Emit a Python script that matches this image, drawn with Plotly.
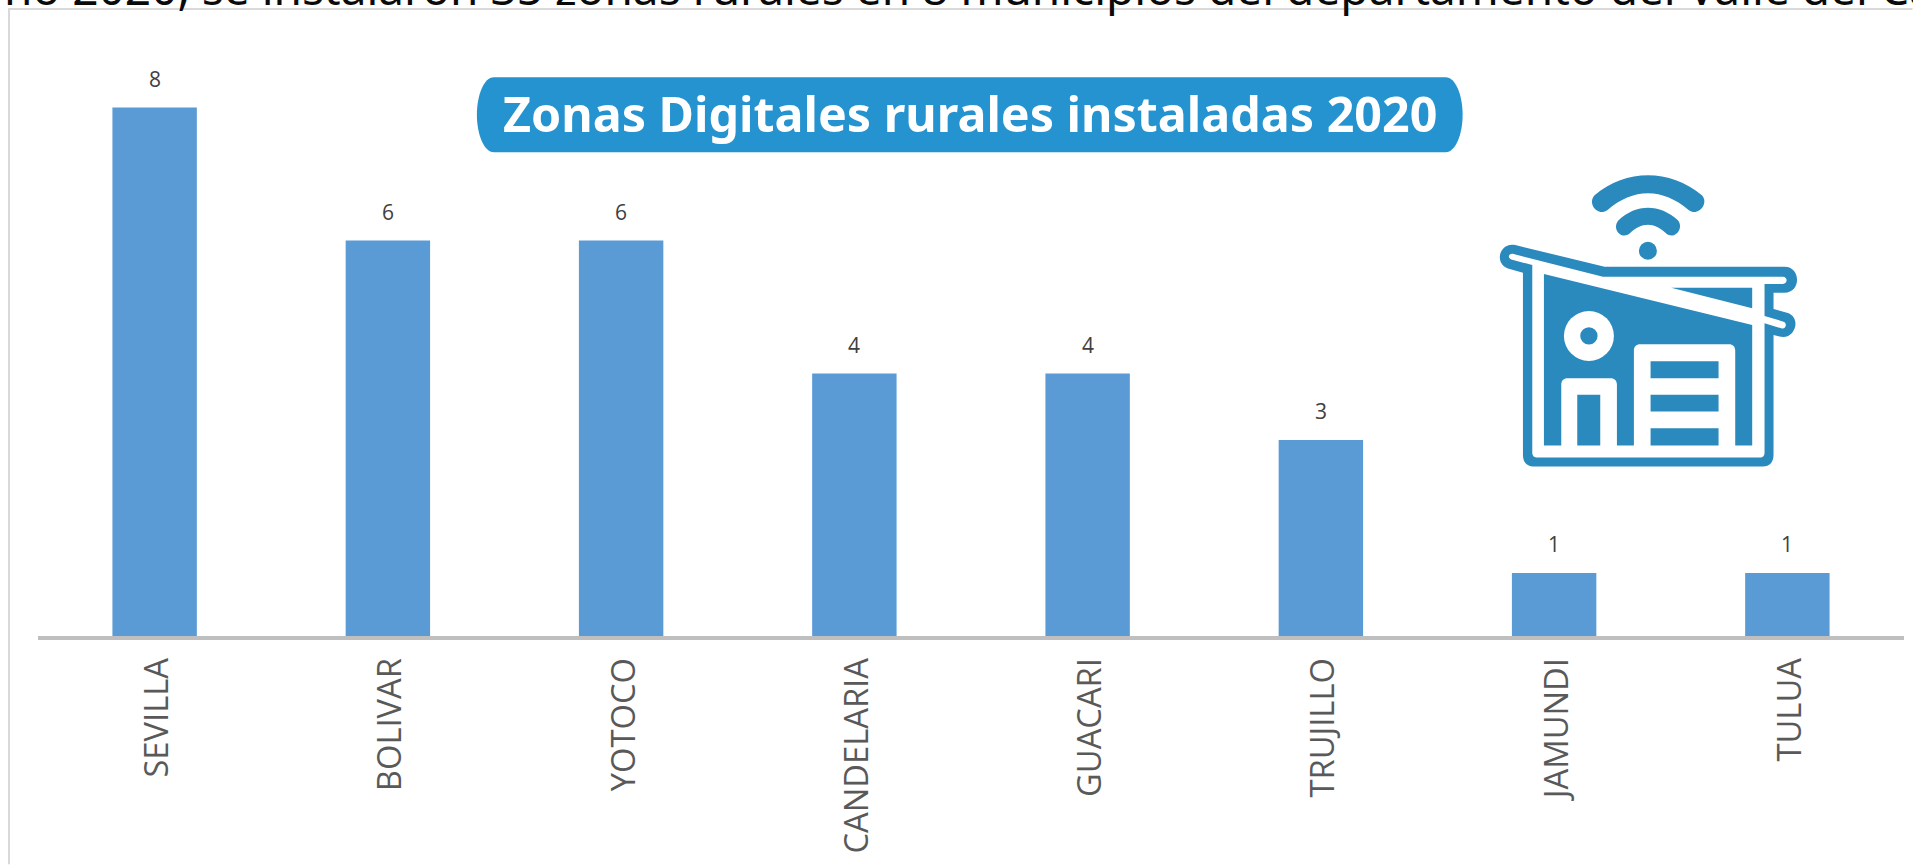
import re
import plotly.graph_objects as go

municipios = ["SEVILLA", "BOLIVAR", "YOTOCO", "CANDELARIA", "GUACARI", "TRUJILLO", "JAMUNDI", "TULUA"]
zonas = [8, 6, 6, 4, 4, 3, 1, 1]
titulo = "Zonas Digitales rurales instaladas 2020"
encabezado = "ño 2020, se instalaron 35 zonas rurales en 8 municipios del departamento del Valle del Cauca"

W, H = 1913, 865
L, R, B = 38, 1904.5, 636.5
UNIT = 66.6
Y0 = 0.0525
T = B - (9 - Y0) * UNIT
BLUE = "#5b9bd5"
ICON = "#2a8abd"
PILL = "#2493cf"


def px(x):
    return (x - L) / (R - L)


def py(y):
    return (B - y) / (B - T)


def zx(x):  # icon zoom coordinates to page pixels
    return 1480 + x / 3


def zy(y):
    return 160 + y / 3


def path(d, icon=True):
    toks = re.findall(r"[A-Za-z]|-?[\d.]+", d)
    out, is_x = [], True
    for t in toks:
        if t.isalpha():
            out.append(t)
            is_x = True
        else:
            v = float(t)
            if is_x:
                out.append(f"{px(zx(v) if icon else v):.5f}")
            else:
                out.append(f"{py(zy(v) if icon else v):.5f}")
            is_x = not is_x
    s = ""
    i = 0
    while i < len(out):
        if out[i].isalpha():
            s += out[i]
            i += 1
        else:
            s += out[i] + "," + out[i + 1] + " "
            i += 2
    return s.strip()


shapes = []


def filled(d, color, icon=True):
    shapes.append(dict(type="path", xref="paper", yref="paper", path=path(d, icon),
                       fillcolor=color, line=dict(width=0), layer="above"))


def circle(cx, cy, r, color):
    shapes.append(dict(type="circle", xref="paper", yref="paper",
                       x0=px(zx(cx - r)), x1=px(zx(cx + r)),
                       y0=py(zy(cy + r)), y1=py(zy(cy - r)),
                       fillcolor=color, line=dict(width=0), layer="above"))


def rect(x0, y0, x1, y1, color):
    filled(f"M {x0} {y0} L {x1} {y0} L {x1} {y1} L {x0} {y1} Z", color)


# Frame lines
filled("M 8 7.5 L 1913 7.5 L 1913 9.5 L 8 9.5 Z", "#d9d9d9", icon=False)
filled("M 8 7.5 L 10 7.5 L 10 865 L 8 865 Z", "#d9d9d9", icon=False)

# Title pill
filled("M 494 77 L 1446 77 C 1456 77 1463 95 1463 114.5 C 1463 134 1456 152 1446 152 "
       "L 494 152 C 484 152 477 134 477 114.5 C 477 95 484 77 494 77 Z", PILL, icon=False)

# Icon: silhouette
filled("M 107 255 L 375 320 L 915 320 C 965 320 965 398 915 398 L 882 398 L 882 447 L 925 459 "
       "C 968 475 945 542 900 530 L 882 525 L 882 885 C 882 908 870 920 850 920 L 165 920 "
       "C 142 920 130 908 130 885 L 130 338 L 85 325 C 42 310 60 245 107 255 Z", ICON)
# Icon: white interior
filled("M 102 282 L 370 350 L 910 350 C 925 350 925 372 910 372 L 855 372 L 855 468 L 912 485 "
       "C 925 490 918 510 905 505 L 855 490 L 855 880 C 855 888 850 893 845 893 L 170 893 "
       "C 163 893 158 888 158 880 L 158 315 L 95 298 C 82 293 88 278 102 282 Z", "#ffffff")
# Icon: wall panels
filled("M 193 342 L 818 495 L 818 857 L 767 857 L 767 572 C 767 560 760 553 748 553 L 482 553 "
       "C 470 553 463 560 463 572 L 463 857 L 412 857 L 412 674 C 412 662 405 655 393 655 L 264 655 "
       "C 252 655 245 662 245 674 L 245 857 L 193 857 Z", ICON)
filled("M 575 383 L 818 383 L 818 445 Z", ICON)
circle(328, 528, 75, "#ffffff")
circle(328, 528, 26, ICON)
rect(293, 705, 362, 857, ICON)
rect(513, 604, 717, 655, ICON)
rect(513, 705, 717, 755, ICON)
rect(513, 805, 717, 857, ICON)
# Icon: wifi
circle(505, 272, 27, ICON)
filled("M 345 105 C 440 25 570 25 667 105 C 690 130 655 170 628 150 C 550 82 460 82 383 150 "
       "C 355 170 322 130 345 105 Z", ICON)
filled("M 417 180 C 470 130 540 130 595 180 C 615 205 585 240 560 220 C 525 185 485 185 450 220 "
       "C 425 240 395 205 417 180 Z", ICON)

fig = go.Figure(go.Bar(x=municipios, y=zonas, marker=dict(color=BLUE, line=dict(width=0)),
                       width=0.362, hoverinfo="x+y"))

annotations = [
    dict(x=m, y=v, yref="y", xref="x", text=str(v), showarrow=False, yshift=29, yanchor="middle",
         font=dict(family="Open Sans", size=21, color="#404040"))
    for m, v in zip(municipios, zonas)
]
annotations.append(dict(xref="paper", yref="paper", x=px(970), y=py(113), text=f"<b>{titulo}</b>",
                        showarrow=False, yanchor="middle", xanchor="center",
                        font=dict(family="Noto Sans", size=48.4, color="#ffffff")))
annotations.append(dict(xref="paper", yref="paper", x=px(2), y=py(20), xanchor="left", yanchor="bottom",
                        text=encabezado, showarrow=False, align="left",
                        font=dict(family="Noto Sans", size=46, color="#0a0a0a")))

fig.update_layout(
    width=W, height=H, autosize=False,
    margin=dict(l=L, r=W - R, t=T, b=H - B, pad=0, autoexpand=False),
    paper_bgcolor="#ffffff", plot_bgcolor="#ffffff",
    showlegend=False, shapes=shapes, annotations=annotations,
    bargap=0.638,
    xaxis=dict(type="category", tickangle=-90, showgrid=False, zeroline=False, automargin=False,
               showline=True, linecolor="#bfbfbf", linewidth=4,
               ticks="outside", ticklen=5, tickcolor="rgba(0,0,0,0)", ticklabelshift=3,
               tickfont=dict(family="Open Sans", size=32.7, color="#595959")),
    yaxis=dict(range=[Y0, 9], visible=False, fixedrange=True, automargin=False),
)
fig.write_html("out.html", config=dict(displayModeBar=False),
               post_script="document.body.style.margin='0';")
